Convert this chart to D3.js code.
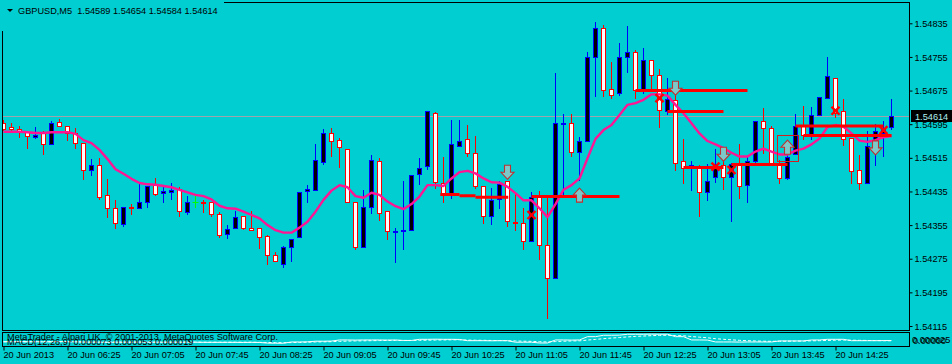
<!DOCTYPE html>
<html><head><meta charset="utf-8">
<script src="https://cdn.jsdelivr.net/npm/d3@7"></script>
<style>
body{margin:0;background:#00CED1;}
svg{display:block;}
text{font-family:"Liberation Sans",Arial,sans-serif;font-size:9.2px;fill:#000;}
</style>
</head><body>
<svg id="c" width="952" height="364"></svg>
<script>
// ---------- data (GBPUSD, M5, 20 Jun 2013) ----------
const symbolTitle = "GBPUSD,M5  1.54589 1.54654 1.54584 1.54614";
const openP = [1.54597,1.54588,1.54583,1.54577,1.54565,1.54573,1.54547,1.54600,1.54591,1.54573,
1.54551,1.54485,1.54497,1.54426,1.54395,1.54357,1.54397,1.54395,1.54409,1.54451,
1.54431,1.54433,1.54441,1.54387,1.54409,1.54410,1.54409,1.54381,1.54333,1.54347,
1.54376,1.54348,1.54348,1.54328,1.54283,1.54263,1.54302,1.54326,1.54435,1.54438,
1.54506,1.54573,1.54557,1.54535,1.54409,1.54302,1.54397,1.54507,1.54388,1.54340,
1.54342,1.54343,1.54477,1.54495,1.54621,1.54454,1.54428,1.54542,1.54559,1.54526,
1.54447,1.54376,1.54416,1.54459,1.54362,1.54359,1.54317,1.54421,1.54307,1.54229,
1.54597,1.54599,1.54528,1.54554,1.54756,1.54823,1.54678,1.54669,1.54756,1.54766,
1.54676,1.54747,1.54711,1.54626,1.54652,1.54507,1.54492,1.54492,1.54433,1.54469,
1.54497,1.54469,1.54500,1.54450,1.54507,1.54602,1.54585,1.54500,1.54466,1.54523,
1.54590,1.54569,1.54616,1.54657,1.54704,1.54626,1.54561,1.54485,1.54454,1.54542,
1.54574,1.54589];
const highP = [1.54605,1.54599,1.54591,1.54577,1.54588,1.54579,1.54602,1.54607,1.54591,1.54586,
1.54551,1.54512,1.54514,1.54465,1.54415,1.54397,1.54405,1.54452,1.54448,1.54467,
1.54445,1.54455,1.54445,1.54424,1.54424,1.54415,1.54409,1.54385,1.54355,1.54389,
1.54376,1.54388,1.54348,1.54331,1.54291,1.54305,1.54321,1.54433,1.54450,1.54548,
1.54584,1.54586,1.54562,1.54535,1.54409,1.54439,1.54522,1.54514,1.54388,1.54348,
1.54460,1.54473,1.54514,1.54626,1.54624,1.54517,1.54604,1.54604,1.54592,1.54566,
1.54447,1.54443,1.54459,1.54459,1.54433,1.54395,1.54433,1.54435,1.54421,1.54716,
1.54619,1.54619,1.54564,1.54766,1.54837,1.54830,1.54742,1.54787,1.54828,1.54772,
1.54776,1.54747,1.54726,1.54704,1.54688,1.54559,1.54507,1.54497,1.54500,1.54535,
1.54535,1.54502,1.54547,1.54516,1.54602,1.54633,1.54590,1.54511,1.54545,1.54619,
1.54638,1.54635,1.54659,1.54754,1.54704,1.54654,1.54561,1.54521,1.54578,1.54595,
1.54602,1.54654];
const lowP = [1.54581,1.54580,1.54565,1.54539,1.54561,1.54525,1.54547,1.54590,1.54558,1.54539,
1.54464,1.54475,1.54418,1.54375,1.54348,1.54353,1.54382,1.54395,1.54399,1.54427,
1.54411,1.54417,1.54377,1.54382,1.54397,1.54387,1.54377,1.54327,1.54325,1.54347,
1.54346,1.54343,1.54301,1.54263,1.54269,1.54256,1.54270,1.54326,1.54411,1.54438,
1.54500,1.54520,1.54494,1.54409,1.54298,1.54302,1.54383,1.54366,1.54323,1.54267,
1.54299,1.54343,1.54453,1.54488,1.54443,1.54411,1.54419,1.54542,1.54519,1.54443,
1.54359,1.54357,1.54395,1.54352,1.54343,1.54298,1.54317,1.54274,1.54133,1.54229,
1.54428,1.54519,1.54462,1.54554,1.54661,1.54661,1.54657,1.54664,1.54720,1.54657,
1.54669,1.54680,1.54588,1.54619,1.54487,1.54456,1.54439,1.54376,1.54414,1.54458,
1.54440,1.54364,1.54419,1.54411,1.54502,1.54526,1.54502,1.54454,1.54464,1.54523,
1.54559,1.54559,1.54616,1.54657,1.54613,1.54545,1.54454,1.54440,1.54454,1.54497,
1.54519,1.54584];
const closeP = [1.54584,1.54583,1.54578,1.54566,1.54569,1.54547,1.54599,1.54590,1.54575,1.54550,
1.54485,1.54497,1.54421,1.54395,1.54359,1.54397,1.54395,1.54409,1.54448,1.54430,
1.54436,1.54439,1.54388,1.54409,1.54409,1.54407,1.54381,1.54332,1.54346,1.54374,
1.54349,1.54343,1.54327,1.54283,1.54269,1.54302,1.54321,1.54433,1.54440,1.54509,
1.54573,1.54554,1.54540,1.54409,1.54302,1.54397,1.54509,1.54383,1.54340,1.54341,
1.54343,1.54473,1.54492,1.54626,1.54457,1.54427,1.54547,1.54554,1.54526,1.54447,
1.54376,1.54414,1.54452,1.54364,1.54359,1.54317,1.54421,1.54307,1.54229,1.54599,
1.54599,1.54528,1.54554,1.54756,1.54825,1.54676,1.54664,1.54756,1.54766,1.54676,
1.54747,1.54711,1.54628,1.54654,1.54502,1.54492,1.54497,1.54433,1.54461,1.54500,
1.54469,1.54500,1.54447,1.54507,1.54602,1.54585,1.54502,1.54466,1.54516,1.54590,
1.54569,1.54616,1.54659,1.54709,1.54621,1.54559,1.54483,1.54454,1.54542,1.54578,
1.54584,1.54614];
const maLine = [1.54577,1.54577,1.54577,1.54576,1.54574,1.54574,1.54576,1.54576,1.54576,1.54572,
1.54557,1.54550,1.54534,1.54512,1.54488,1.54477,1.54465,1.54455,1.54452,1.54451,
1.54448,1.54445,1.54439,1.54433,1.54427,1.54424,1.54416,1.54401,1.54395,1.54394,
1.54387,1.54379,1.54371,1.54355,1.54343,1.54337,1.54337,1.54349,1.54363,1.54387,
1.54415,1.54437,1.54450,1.54445,1.54424,1.54420,1.54432,1.54427,1.54411,1.54400,
1.54393,1.54405,1.54423,1.54450,1.54450,1.54448,1.54466,1.54481,1.54484,1.54478,
1.54466,1.54457,1.54456,1.54446,1.54431,1.54414,1.54414,1.54395,1.54374,1.54405,
1.54439,1.54450,1.54466,1.54514,1.54560,1.54581,1.54593,1.54617,1.54641,1.54645,
1.54653,1.54666,1.54666,1.54663,1.54641,1.54621,1.54597,1.54573,1.54555,1.54547,
1.54538,1.54527,1.54518,1.54518,1.54530,1.54537,1.54530,1.54523,1.54523,1.54532,
1.54537,1.54547,1.54561,1.54588,1.54593,1.54589,1.54573,1.54556,1.54553,1.54557,
1.54564,1.54567];
const macdMain = [-0.00002,-0.00002,-0.00001,-0.00002,-0.00002,-0.00003,-0.00002,-0.00001,-0.00002,-0.00003,
-0.00005,-0.00006,-0.00006,-0.00007,-0.00006,-0.00006,-0.00006,-0.00005,-0.00006,-0.00006,
-0.00006,-0.00006,-0.00006,-0.00006,-0.00006,-0.00007,-0.00007,-0.00007,-0.00007,-0.00007,
-0.00008,-0.00007,-0.00008,-0.00013,-0.00014,-0.00014,-0.00004,-0.00004,-0.00003,0.00002,
0.00002,0.00003,0.00012,0.00012,0.00011,0.00012,0.00012,0.00012,0.00011,0.00012,
0.00008,0.00008,0.00017,0.00017,0.00018,0.00017,0.00017,0.00016,0.00006,0.00006,
0.00006,0.00005,0.00006,0.00006,-0.00006,-0.00006,-0.00006,-0.00012,-0.00012,0.00012,
0.00012,0.00011,0.00012,0.00038,0.00038,0.00049,0.00049,0.00050,0.00057,0.00057,
0.00057,0.00058,0.00057,0.00057,0.00038,0.00038,0.00012,0.00012,0.00011,-0.00004,
-0.00004,-0.00004,-0.00005,-0.00004,-0.00004,-0.00004,-0.00004,0.00004,0.00004,0.00004,
0.00004,0.00012,0.00012,0.00017,0.00017,0.00017,0.00006,0.00006,0.00006,0.00006,
0.00007,0.000073];
const macdSignal = [-0.00003,-0.00003,-0.00003,-0.00003,-0.00003,-0.00003,-0.00003,-0.00003,-0.00003,-0.00003,
-0.00004,-0.00004,-0.00004,-0.00004,-0.00004,-0.00005,-0.00005,-0.00005,-0.00005,-0.00005,
-0.00005,-0.00005,-0.00005,-0.00005,-0.00005,-0.00006,-0.00006,-0.00006,-0.00006,-0.00006,
-0.00006,-0.00006,-0.00007,-0.00008,-0.00009,-0.00010,-0.00009,-0.00008,-0.00006,-0.00004,
-0.00003,-0.00002,0.00001,0.00003,0.00004,0.00005,0.00006,0.00007,0.00008,0.00008,
0.00008,0.00008,0.00009,0.00010,0.00011,0.00012,0.00013,0.00013,0.00011,0.00010,
0.00009,0.00008,0.00007,0.00006,0.00004,0.00002,0.00001,-0.00002,-0.00004,-0.00001,
0.00002,0.00004,0.00005,0.00011,0.00016,0.00022,0.00027,0.00031,0.00036,0.00040,
0.00043,0.00046,0.00048,0.00049,0.00047,0.00045,0.00039,0.00034,0.00029,0.00022,
0.00017,0.00013,0.00009,0.00006,0.00004,0.00002,0.00001,0.00002,0.00002,0.00003,
0.00003,0.00005,0.00006,0.00008,0.00010,0.00011,0.00010,0.00009,0.00008,0.00007,
0.00006,0.000053];
// horizontal level segments drawn by the EA: [fromBar, toBar, price]
const levelSegs = [[54.6,57,1.54428],[57,59,1.54425],[59,63.1,1.54421],[66,77,1.54423],
  [79,93,1.54675],[83,90,1.54625],[85,90,1.54492],[91,98,1.54499],[99,110,1.54591],[100,111,1.54568]];
const boxBars = [96.7, 99.3], boxPrices = [1.54570, 1.54509];
// arrows: [bar, tip price]
const downArrows = [[63,1.54464],[84,1.54664],[90,1.54507],[109,1.54522]];
const upArrows = [[72,1.54443],[98,1.54557]];
const crossMarks = [[66,1.54379],[82,1.54657],[89,1.54494],[91,1.54486],[104,1.54627],[110,1.54581]];
const bidPrice = 1.54614;
const priceTicks = [1.54835,1.54755,1.54675,1.54595,1.54515,1.54435,1.54355,1.54275,1.54195,1.54115];
const tickBars = [0,8,16,24,32,40,48,56,64,72,80,88,96,104];
const timeLabels = ["20 Jun 2013","20 Jun 06:25","20 Jun 07:05","20 Jun 07:45","20 Jun 08:25","20 Jun 09:05",
 "20 Jun 09:45","20 Jun 10:25","20 Jun 11:05","20 Jun 11:45","20 Jun 12:25","20 Jun 13:05","20 Jun 13:45","20 Jun 14:25"];
const macdTitle = "MACD(12,26,9) 0.000073 0.000053 0.000019";
const copyright = "MetaTrader - Alpari UK, \u00A9 2001-2013, MetaQuotes Software Corp.";
const macdAxisLabels = ["0.000625","0.00000"];

// ---------- drawing ----------
const svg = d3.select("#c");
const L = 2.5, R = 909.5, T = 2.5, B = 330.5, PT = 332.5, PB = 346.5;
const x = d3.scaleLinear().domain([0, 111]).range([3.5, 891.5]);
const y = d3.scaleLinear().domain([1.54115, 1.54835]).range([326, 23.3]);
const ym = d3.scaleLinear().domain([-0.00036, 0.00067]).range([346, 333]);
const snap = v => Math.round(v) + 0.5;

svg.append("rect").attr("width",952).attr("height",364).attr("fill","#00CED1");
const defs = svg.append("defs");
defs.append("clipPath").attr("id","mc").append("rect").attr("x",L).attr("y",T).attr("width",R-L).attr("height",B-T);
defs.append("clipPath").attr("id","pc").append("rect").attr("x",L).attr("y",PT).attr("width",R-L).attr("height",PB-PT);

const main = svg.append("g").attr("clip-path","url(#mc)");
// bid line
main.append("line").attr("x1",L).attr("x2",R).attr("y1",snap(y(bidPrice))).attr("y2",snap(y(bidPrice)))
  .attr("stroke","#a0a4aa").attr("stroke-width",1);

// candles
const idx = d3.range(openP.length);
const cg = main.append("g");
idx.forEach(i => {
  const o = openP[i], c = closeP[i], h = highP[i], l = lowP[i];
  const col = c > o ? "#0000FF" : (c < o ? "#FF0000" : "#00FF00");
  const cx = x(i);
  cg.append("line").attr("x1",cx).attr("x2",cx).attr("y1",Math.round(y(h))).attr("y2",Math.round(y(l))+1)
    .attr("stroke",col).attr("stroke-width",1);
  const top = snap(y(Math.max(o,c))), bot = snap(y(Math.min(o,c)));
  if (c === o) {
    cg.append("line").attr("x1",cx-3).attr("x2",cx+3).attr("y1",top).attr("y2",top).attr("stroke",col);
  } else {
    cg.append("rect").attr("x",cx-2).attr("y",top).attr("width",4).attr("height",Math.max(bot-top,1))
      .attr("fill", c > o ? "#000000" : "#FFFFFF").attr("stroke",col).attr("stroke-width",1);
  }
});

// moving average
main.append("path").datum(maLine)
  .attr("d", d3.line().x((d,i)=>x(i)).y(d=>y(d)))
  .attr("fill","none").attr("stroke","#FF1493").attr("stroke-width",2.4).attr("stroke-linejoin","round");

// level segments
main.selectAll(".lvl").data(levelSegs).join("line")
  .attr("x1",d=>x(d[0])).attr("x2",d=>x(d[1])).attr("y1",d=>y(d[2])).attr("y2",d=>y(d[2]))
  .attr("stroke","#FF0000").attr("stroke-width",3);
main.append("rect").attr("x",snap(x(boxBars[0]))).attr("y",snap(y(boxPrices[0])))
  .attr("width",Math.round(x(boxBars[1])-x(boxBars[0]))).attr("height",Math.round(y(boxPrices[1])-y(boxPrices[0])))
  .attr("fill","none").attr("stroke","#D02020").attr("stroke-width",1);

// arrows
const upPath = "M0,0 L6.5,7 L3,7 L3,14 L-3,14 L-3,7 L-6.5,7 Z";
main.selectAll(".up").data(upArrows).join("path")
  .attr("transform",d=>`translate(${x(d[0])},${y(d[1])})`).attr("d",upPath)
  .attr("fill","#7dc9c9").attr("stroke","#C03030").attr("stroke-width",1.1);
main.selectAll(".dn").data(downArrows).join("path")
  .attr("transform",d=>`translate(${x(d[0])},${y(d[1])}) scale(1,-1)`).attr("d",upPath)
  .attr("fill","#7dc9c9").attr("stroke","#C03030").attr("stroke-width",1.1);
// cross marks
main.selectAll(".xm").data(crossMarks).join("path")
  .attr("transform",d=>`translate(${x(d[0])},${y(d[1])})`).attr("d","M-4,-4 L4,4 M4,-4 L-4,4")
  .attr("stroke","#FF0000").attr("stroke-width",2.4).attr("fill","none");

// indicator panel lines
const pg = svg.append("g").attr("clip-path","url(#pc)");
pg.append("path").datum(macdSignal).attr("d", d3.line().x((d,i)=>x(i)).y(d=>ym(d)))
  .attr("fill","none").attr("stroke","#FFFFFF").attr("stroke-width",1).attr("stroke-dasharray","3,2");
pg.append("path").datum(macdMain).attr("d", d3.line().x((d,i)=>x(i)).y(d=>ym(d)))
  .attr("fill","none").attr("stroke","#FFFFFF").attr("stroke-width",1);
pg.append("text").attr("x",7).attr("y",340).text(copyright);
pg.append("text").attr("x",7).attr("y",344.5).text(macdTitle);

// frames
svg.append("rect").attr("x",L).attr("y",T).attr("width",R-L).attr("height",B-T).attr("fill","none").attr("stroke","#000");
svg.append("rect").attr("x",L).attr("y",PT).attr("width",R-L).attr("height",PB-PT).attr("fill","none").attr("stroke","#000");

// price axis
const ay = svg.append("g").attr("transform",`translate(${R},0)`)
  .call(d3.axisRight(y).tickValues(priceTicks).tickFormat(d3.format(".5f")).tickSize(3).tickPadding(2));
ay.select(".domain").remove();
ay.selectAll("text").attr("font-size",null).attr("font-family",null).attr("dy","0.34em");
ay.selectAll("line").attr("stroke","#000");

// macd axis labels
svg.selectAll(".ml").data(macdAxisLabels).join("text")
  .attr("x",(d,i)=>912+i).attr("y",(d,i)=>343+i*0.5).text(d=>d);

// bid label
svg.append("rect").attr("x",911).attr("y",Math.round(y(bidPrice))-6).attr("width",41).attr("height",12).attr("fill","#000");
svg.append("text").attr("x",915).attr("y",Math.round(y(bidPrice))+3.5).style("fill","#b0f0f0").text(d3.format(".5f")(bidPrice));

// time axis
const ax = svg.append("g").attr("transform",`translate(0,${PB})`)
  .call(d3.axisBottom(x).tickValues(tickBars).tickFormat((d,i)=>timeLabels[i]).tickSize(4).tickPadding(1));
ax.select(".domain").remove();
ax.selectAll("text").attr("font-size",null).attr("font-family",null).attr("text-anchor","start").attr("dx","-0.5");
ax.selectAll("line").attr("stroke","#000");

// header (its background box hides the frame corner, as in the terminal)
svg.append("rect").attr("x",0).attr("y",0).attr("width",224).attr("height",31).attr("fill","#00CED1");
svg.append("path").attr("d","M7,9 L13,9 L10,12 Z").attr("fill","#000");
svg.append("text").attr("x",18).attr("y",14).style("white-space","pre").text(symbolTitle);
</script>
</body></html>
